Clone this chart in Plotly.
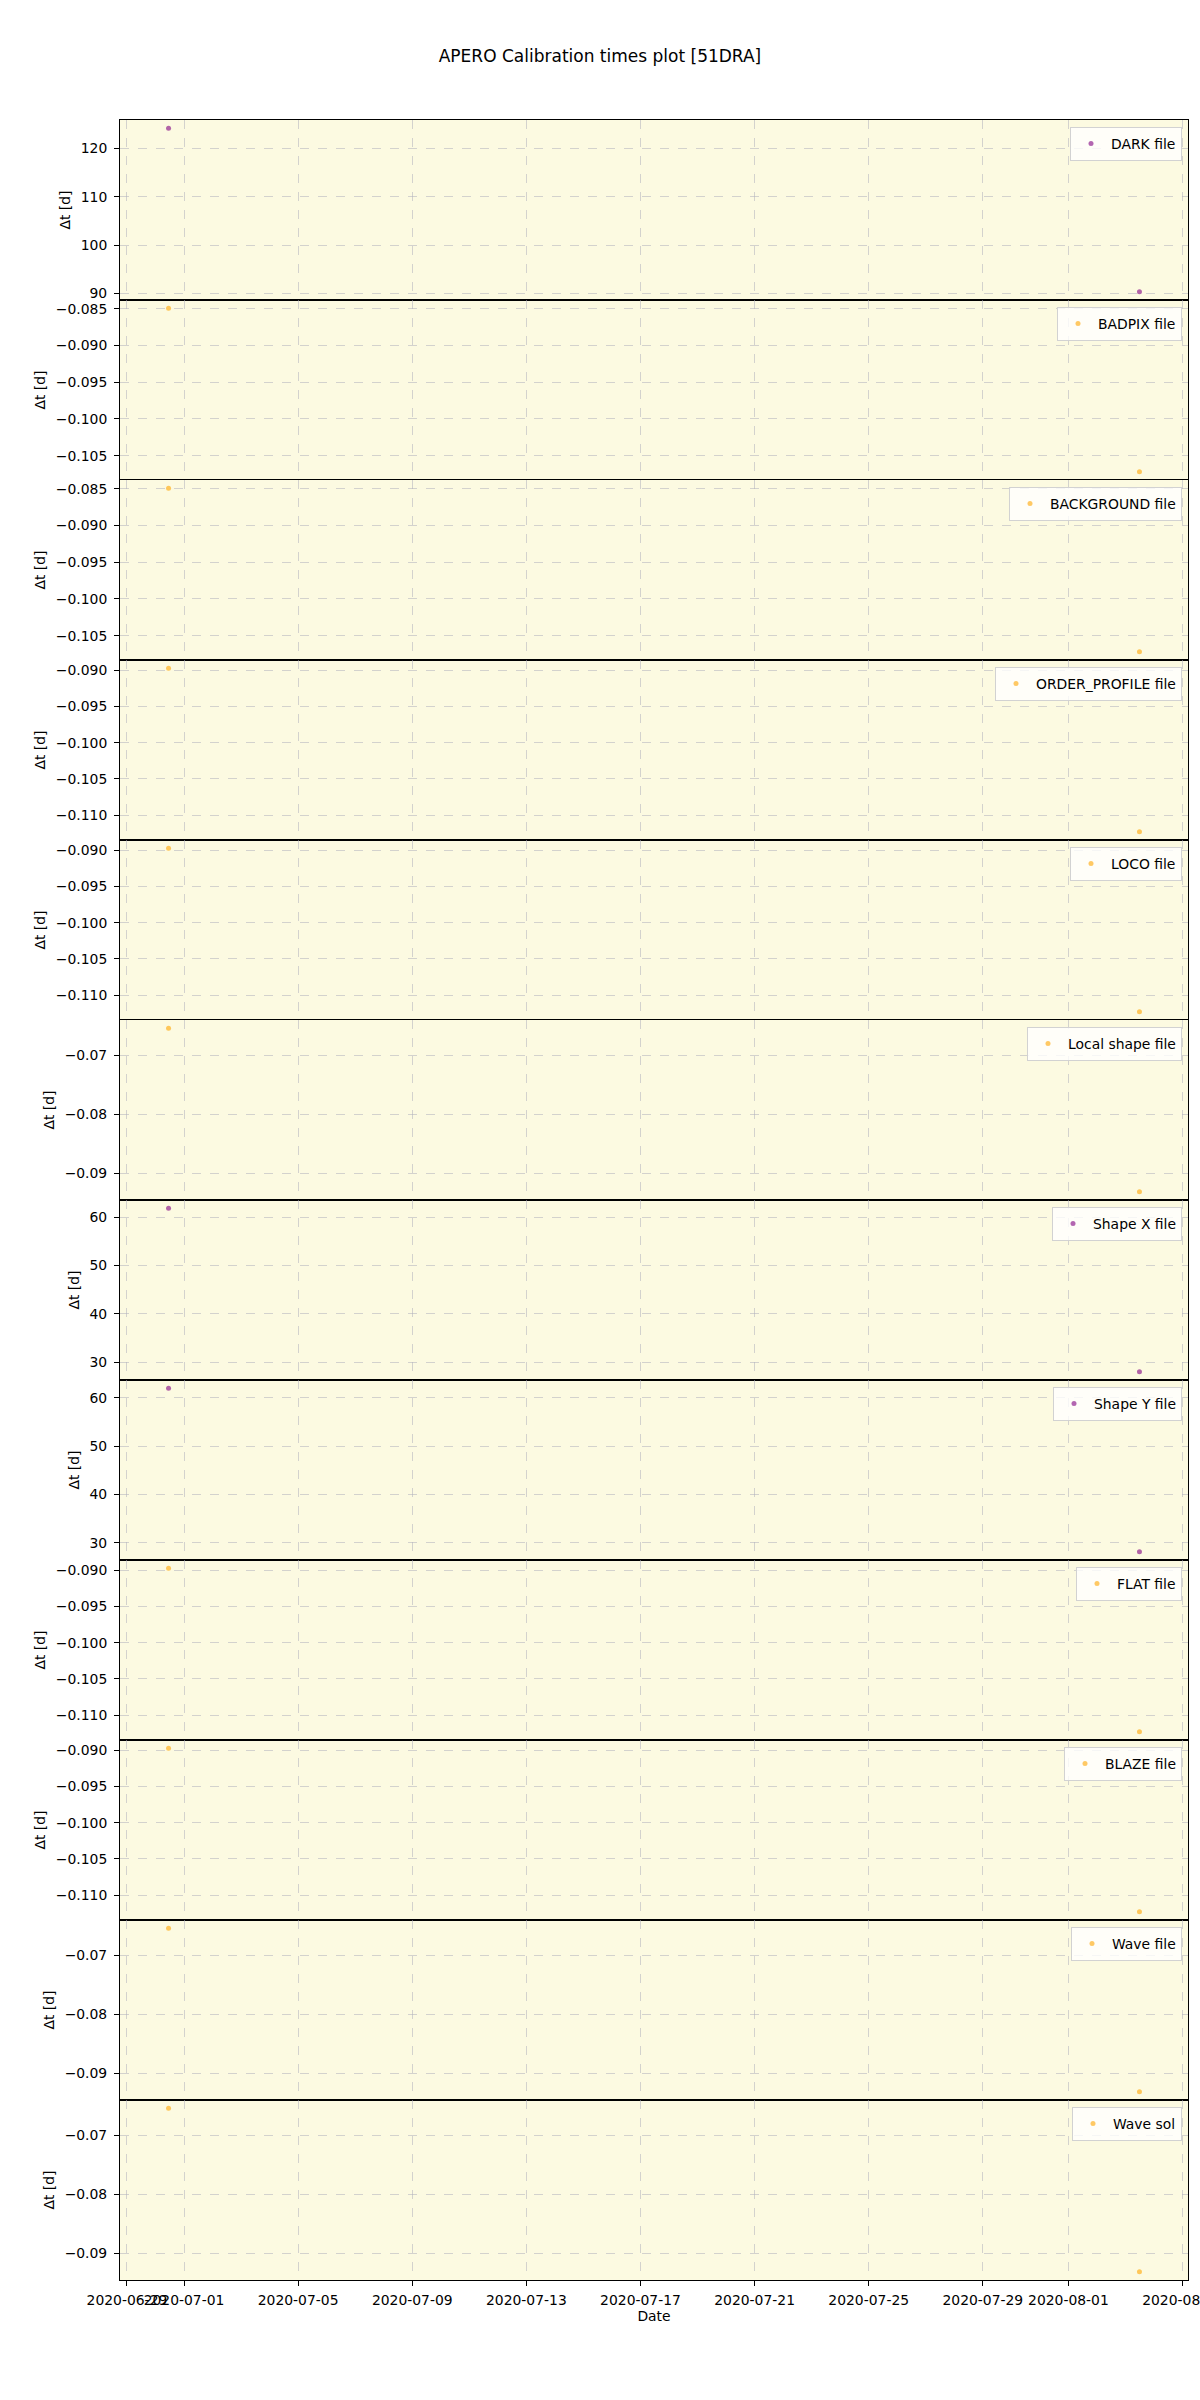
import plotly.graph_objects as go
from plotly.subplots import make_subplots
import pandas as pd

# ---------------- data ----------------
file_labels = ["DARK file", "BADPIX file", "BACKGROUND file", "ORDER_PROFILE file",
               "LOCO file", "Local shape file", "Shape X file", "Shape Y file",
               "FLAT file", "BLAZE file", "Wave file", "Wave sol"]
obs_dates = ["2020-06-30 11:00", "2020-08-03 11:45"]
dark_dt = [124.2, 90.3]
badpix_dt = [-0.0849, -0.1072]
background_dt = [-0.0849, -0.1072]
order_profile_dt = [-0.0897, -0.1123]
loco_dt = [-0.0897, -0.1123]
local_shape_dt = [-0.0654, -0.0931]
shape_x_dt = [61.9, 28.0]
shape_y_dt = [62.0, 28.1]
flat_dt = [-0.0897, -0.1123]
blaze_dt = [-0.0897, -0.1123]
wave_file_dt = [-0.0654, -0.0931]
wave_sol_dt = [-0.0654, -0.0931]
x_tick_dates = ["2020-06-29", "2020-07-01", "2020-07-05", "2020-07-09", "2020-07-13",
                "2020-07-17", "2020-07-21", "2020-07-25", "2020-07-29", "2020-08-01",
                "2020-08-05"]

series = [dark_dt, badpix_dt, background_dt, order_profile_dt, loco_dt, local_shape_dt,
          shape_x_dt, shape_y_dt, flat_dt, blaze_dt, wave_file_dt, wave_sol_dt]

# ---------------- style ----------------
PURPLE = "purple"
ORANGE = "orange"
colors = [PURPLE, ORANGE, ORANGE, ORANGE, ORANGE, ORANGE, PURPLE, PURPLE,
          ORANGE, ORANGE, ORANGE, ORANGE]
dticks = [10, 0.005, 0.005, 0.005, 0.005, 0.01, 10, 10, 0.005, 0.005, 0.01, 0.01]
fmts = {10: "d", 0.005: ".3f", 0.01: ".2f"}

W, H = 1200, 2400
ML, MR, MT, MB = 120, 12, 120, 120
n = len(file_labels)
plot_h = H - MT - MB
panel_h = plot_h / n
plot_w = W - ML - MR

FONT = "DejaVu Sans"
FS = 13.9
BG = "rgb(252,250,225)"
GRID = "rgba(176,176,190,0.55)"

fig = make_subplots(rows=n, cols=1, shared_xaxes=True, vertical_spacing=0)

xd = pd.to_datetime(obs_dates)
xspan = xd.max() - xd.min()
xr = [xd.min() - 0.05 * xspan, xd.max() + 0.05 * xspan]

for i, (lab, ys, col) in enumerate(zip(file_labels, series, colors)):
    leg = "legend" if i == 0 else f"legend{i+1}"
    fig.add_trace(
        go.Scatter(x=obs_dates, y=ys, mode="markers", name=lab,
                   marker=dict(color=col, size=5, opacity=0.6, line=dict(width=0)),
                   legend=leg, showlegend=True),
        row=i + 1, col=1)
    lo, hi = min(ys), max(ys)
    sp = hi - lo
    fig.update_yaxes(range=[lo - 0.05 * sp, hi + 0.05 * sp], dtick=dticks[i],
                     tickformat=fmts[dticks[i]], row=i + 1, col=1)
    top_px = i * panel_h + 7
    fig.update_layout({leg: dict(
        x=(1182 - ML) / plot_w, y=1 - top_px / plot_h, xanchor="right", yanchor="top",
        bgcolor="rgba(255,255,255,0.8)", bordercolor="rgb(210,210,210)", borderwidth=1,
        font=dict(family=FONT, size=FS, color="black"),
        tracegroupgap=0)})

fig.update_yaxes(
    showline=True, mirror=True, linecolor="black", linewidth=1,
    ticks="outside", ticklen=5, tickwidth=1, tickcolor="black",
    showgrid=True, gridcolor=GRID, griddash="dash", gridwidth=1,
    zeroline=False, tickfont=dict(family=FONT, size=FS, color="black"),
    title=dict(text="Δt [d]", font=dict(family=FONT, size=FS, color="black"), standoff=6),
    ticklabelstandoff=4)

fig.update_xaxes(
    type="date", range=xr, tickvals=x_tick_dates, tickformat="%Y-%m-%d", tickangle=0,
    ticklabeloverflow="allow",
    showline=True, mirror=True, linecolor="black", linewidth=1,
    showgrid=True, gridcolor=GRID, griddash="dash", gridwidth=1,
    zeroline=False, tickfont=dict(family=FONT, size=FS, color="black"))
fig.update_xaxes(ticks="outside", ticklen=5, tickwidth=1, tickcolor="black",
                 title=dict(text="Date", font=dict(family=FONT, size=FS, color="black"),
                            standoff=4),
                 ticklabelstandoff=2, row=n, col=1)

fig.update_layout(
    width=W, height=H,
    margin=dict(l=ML, r=MR, t=MT, b=MB, autoexpand=False),
    paper_bgcolor="white", plot_bgcolor=BG,
    font=dict(family=FONT, size=FS, color="black"),
    title=dict(text="APERO Calibration times plot [51DRA]", x=0.5, xref="container",
               xanchor="center", y=1 - 56 / H, yref="container", yanchor="middle",
               font=dict(family=FONT, size=17, color="black")),
)

fig.write_html("out.html", config={"displayModeBar": False},
               post_script="document.body.style.margin='0';")
